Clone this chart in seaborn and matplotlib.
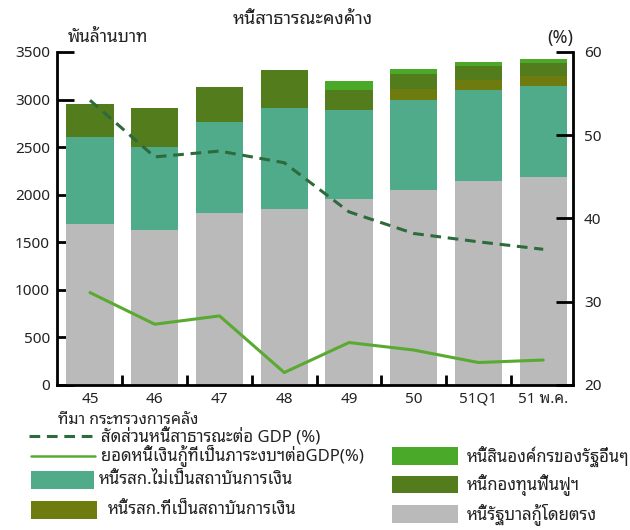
import matplotlib
matplotlib.use("Agg")
import matplotlib.pyplot as plt
from matplotlib.lines import Line2D
from matplotlib.patches import Rectangle
from matplotlib.ticker import FixedLocator
import numpy as np
import pandas as pd
import seaborn as sns

# Outstanding public debt (billion baht) by component
periods = ["45", "46", "47", "48", "49", "50", "51Q1", "51 พ.ค."]
gov_direct = [1690, 1625, 1810, 1855, 1950, 2050, 2140, 2185]
soe_nonfin = [920, 880, 950, 1060, 940, 945, 960, 955]
soe_fin = [0, 0, 0, 0, 0, 120, 105, 105]
fidf = [340, 410, 375, 400, 210, 150, 145, 135]
other_state = [0, 0, 0, 0, 90, 55, 50, 45]

# Ratios to GDP (%)
public_debt_gdp = [54.2, 47.4, 48.1, 46.7, 40.8, 38.2, 37.2, 36.3]
budget_debt_gdp = [31.1, 27.3, 28.3, 21.5, 25.1, 24.2, 22.7, 23.0]

left_ticks = [0, 500, 1000, 1500, 2000, 2500, 3000, 3500]
right_ticks = [20, 30, 40, 50, 60]

labels = {
    "gov": "หนี้รัฐบาลกู้โดยตรง",
    "nonfin": "หนี้รสก.ไม่เป็นสถาบันการเงิน",
    "fin": "หนี้รสก.ที่เป็นสถาบันการเงิน",
    "fidf": "หนี้กองทุนฟื้นฟูฯ",
    "other": "หนี้สินองค์กรของรัฐอื่นๆ",
    "ratio": "สัดส่วนหนี้สาธารณะต่อ GDP (%)",
    "budget": "ยอดหนี้เงินกู้ที่เป็นภาระงบฯต่อGDP(%)",
}
colors = {
    "gov": "#bababa",
    "nonfin": "#4fab8a",
    "fin": "#6e7b0e",
    "fidf": "#537c1c",
    "other": "#4aa928",
    "ratio": "#2d6a3c",
    "budget": "#5aaa32",
}

sns.set_theme(style="white")
plt.rcParams["font.family"] = ["Noto Sans Thai Looped", "DejaVu Sans"]
TXT = "#222222"

df = pd.DataFrame({
    "period": periods,
    "gov": gov_direct,
    "nonfin": soe_nonfin,
    "fin": soe_fin,
    "fidf": fidf,
    "other": other_state,
})
order = ["gov", "nonfin", "fin", "fidf", "other"]
cum = df[order].cumsum(axis=1)

W, H = 630, 530
fig = plt.figure(figsize=(W / 100, H / 100), dpi=100)


def fx(x):
    return x / W


def fy(y):
    return 1 - y / H


ax = fig.add_axes([fx(57), fy(385), fx(573) - fx(57), fy(52) - fy(385)])

# stacked bars: draw cumulative totals from the top component down
for key in reversed(order):
    sns.barplot(x=df["period"], y=cum[key], color=colors[key], width=0.73,
                saturation=1, ax=ax, linewidth=0, zorder=2)

ax.set_xlim(-0.51, 7.46)
ax.set_ylim(0, 3500)
ax.set_xlabel("")
ax.set_ylabel("")
ax.yaxis.set_major_locator(FixedLocator(left_ticks))
ax.set_yticklabels([str(t) for t in left_ticks])
ax.xaxis.set_minor_locator(FixedLocator(np.arange(len(periods) - 1) + 0.5))
ax.tick_params(axis="y", direction="in", length=12, width=2, color="black",
               labelsize=11, labelcolor=TXT, pad=5, left=True)
ax.tick_params(axis="x", which="major", length=0, pad=5, labelsize=11,
               labelcolor=TXT, bottom=True)
ax.tick_params(axis="x", which="minor", direction="in", length=7, width=2,
               color="black", bottom=True)
for s in ["left", "bottom"]:
    ax.spines[s].set_visible(True)
    ax.spines[s].set_color("black")
    ax.spines[s].set_linewidth(2)
ax.spines["top"].set_visible(False)
ax.spines["right"].set_visible(False)
ax.grid(False)

ax2 = ax.twinx()
xpos = np.arange(len(periods))
sns.lineplot(x=xpos, y=public_debt_gdp, ax=ax2, color=colors["ratio"],
             linewidth=2.2, linestyle=(0, (3.5, 2.2)), zorder=3)
sns.lineplot(x=xpos, y=budget_debt_gdp, ax=ax2, color=colors["budget"],
             linewidth=2.2, zorder=3)
ax2.set_ylim(20, 60)
ax2.set_xlim(-0.51, 7.46)
ax2.yaxis.set_major_locator(FixedLocator(right_ticks))
ax2.set_yticklabels([str(t) for t in right_ticks])
ax2.tick_params(axis="y", direction="in", length=12, width=2, color="black",
                labelsize=11, labelcolor=TXT, pad=8, right=True)
ax2.grid(False)
for s in ["left", "bottom", "top"]:
    ax2.spines[s].set_visible(False)
ax2.spines["right"].set_visible(True)
ax2.spines["right"].set_color("black")
ax2.spines["right"].set_linewidth(2)
ax2.set_ylabel("")

# titles and axis units
fig.text(fx(303), fy(19), "หนี้สาธารณะคงค้าง", ha="center", va="center",
         fontsize=13, color=TXT)
fig.text(fx(108), fy(37), "พันล้านบาท", ha="center", va="center",
         fontsize=12.5, color=TXT)
fig.text(fx(560), fy(38), "(%)", ha="center", va="center",
         fontsize=13, color=TXT)
fig.text(fx(58), fy(420), "ที่มา กระทรวงการคลัง", ha="left", va="center",
         fontsize=11.5, color=TXT)

# legend
def leg_line(x0, x1, y, key, dashed):
    ls = (0, (3.5, 2.2)) if dashed else "-"
    fig.add_artist(Line2D([fx(x0), fx(x1)], [fy(y), fy(y)],
                          transform=fig.transFigure, color=colors[key],
                          linewidth=2.2 if dashed else 1.8, linestyle=ls))


def leg_patch(x0, y0, x1, y1, key):
    fig.add_artist(Rectangle((fx(x0), fy(y1)), fx(x1) - fx(x0),
                             fy(y0) - fy(y1), transform=fig.transFigure,
                             facecolor=colors[key], edgecolor="none"))


def leg_text(x, y, key):
    fig.text(fx(x), fy(y), labels[key], ha="left", va="center",
             fontsize=12, color=TXT)


leg_line(29, 95, 436, "ratio", True)
leg_text(101, 436, "ratio")
leg_line(31, 95, 456, "budget", False)
leg_text(101, 456, "budget")
leg_patch(31, 471, 94, 489, "nonfin")
leg_text(99, 480, "nonfin")
leg_patch(31, 501, 97, 519, "fin")
leg_text(108, 510, "fin")
leg_patch(392, 447, 458, 465, "other")
leg_text(467, 456, "other")
leg_patch(392, 476, 458, 493, "fidf")
leg_text(467, 485, "fidf")
leg_patch(392, 505, 458, 523, "gov")
leg_text(467, 514, "gov")

fig.savefig("out.png", dpi=100, facecolor="white")
